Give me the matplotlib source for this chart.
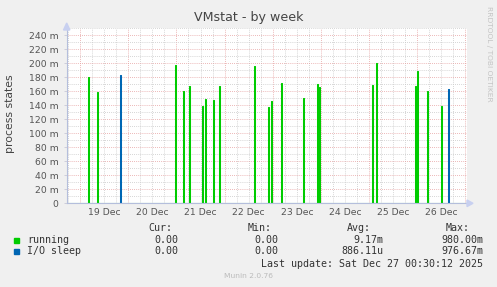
import matplotlib
matplotlib.use("Agg")
import matplotlib.pyplot as plt
import matplotlib.dates as mdates
import matplotlib.ticker as mticker
import pandas as pd

W, H = 497, 287

# spikes (time of sample, value in processes)
running_times = [
    "2025-12-19 04:00", "2025-12-19 08:30", "2025-12-20 23:30",
    "2025-12-21 03:30", "2025-12-21 06:30", "2025-12-21 12:30",
    "2025-12-21 14:00", "2025-12-21 18:00", "2025-12-21 21:00",
    "2025-12-22 14:30", "2025-12-22 21:30", "2025-12-22 23:00",
    "2025-12-23 04:00", "2025-12-23 15:00", "2025-12-23 22:00",
    "2025-12-23 23:00", "2025-12-25 01:30", "2025-12-25 03:30",
    "2025-12-25 23:00", "2025-12-26 00:00", "2025-12-26 05:00",
    "2025-12-26 12:00",
]
running_vals = [
    0.180, 0.159, 0.197, 0.160, 0.167, 0.139, 0.149, 0.147, 0.167,
    0.196, 0.138, 0.146, 0.172, 0.150, 0.170, 0.166, 0.169, 0.200,
    0.167, 0.189, 0.160, 0.139,
]
iosleep_times = ["2025-12-19 20:00", "2025-12-26 15:30"]
iosleep_vals = [0.183, 0.163]

x_start = pd.Timestamp("2025-12-18 17:20")
x_end = pd.Timestamp("2025-12-27 00:45")

legend_rows = [
    ("running", "#00cc00", "0.00", "0.00", "9.17m", "980.00m"),
    ("I/O sleep", "#0066b3", "0.00", "0.00", "886.11u", "976.67m"),
]
last_update = "Last update: Sat Dec 27 00:30:12 2025"


def spikes(times, vals):
    step = pd.Timedelta(minutes=30)
    xs, ys = [x_start], [0.0]
    for t, v in zip(pd.to_datetime(times), vals):
        xs += [t, t, t + step, t + step]
        ys += [0.0, v, v, 0.0]
    xs.append(x_end)
    ys.append(0.0)
    return xs, ys


def fx(x):
    return x / W


def fy(y):
    return 1 - y / H


fig = plt.figure(figsize=(W / 100, H / 100), dpi=100, facecolor="#f0f0f0")
ax = fig.add_axes([fx(66.7), fy(203.3), fx(467) - fx(66.7), (203.3 - 28) / H])
ax.set_facecolor("white")

for times, vals, col in [(running_times, running_vals, "#00cc00"),
                         (iosleep_times, iosleep_vals, "#0066b3")]:
    xs, ys = spikes(times, vals)
    ax.plot(xs, ys, color=col, lw=0.75, zorder=3)

ax.set_xlim(x_start, x_end)
ax.set_ylim(0, 0.2504)

# grid: minor grey every 6h / 10m, major red every day / 20m
ax.xaxis.set_major_locator(mdates.DayLocator())
ax.xaxis.set_minor_locator(mdates.HourLocator(byhour=[6, 12, 18]))
ax.yaxis.set_major_locator(mticker.MultipleLocator(0.02))
ax.yaxis.set_minor_locator(mticker.MultipleLocator(0.01))
ax.grid(which="minor", color="#c8c8c8", lw=0.6, ls=(0, (1, 1.5)), zorder=1)
ax.grid(which="major", color="#e6a0a0", lw=0.6, ls=(0, (1, 1.5)), zorder=1)
ax.set_axisbelow(True)

ax.yaxis.set_major_formatter(mticker.FuncFormatter(
    lambda v, _: "0" if abs(v) < 1e-9 else f"{v * 1000:.0f} m"))
ax.xaxis.set_major_formatter(mticker.NullFormatter())
ax.xaxis.set_minor_formatter(mticker.NullFormatter())
for d in pd.date_range("2025-12-19", "2025-12-26"):
    ax.text(d + pd.Timedelta(hours=12), -0.0125, d.strftime("%d Dec"),
            ha="center", va="center", fontsize=6.7, color="#555555")

ax.tick_params(axis="y", which="major", labelsize=6.7, labelcolor="#555555",
               length=2, width=0.6, color="#c8c8d8", pad=4)
ax.tick_params(axis="y", which="minor", length=0)
ax.tick_params(axis="x", which="both", length=0)

for side in ("top", "right"):
    ax.spines[side].set_visible(False)
for side in ("left", "bottom"):
    ax.spines[side].set_color("#b4bedc")
    ax.spines[side].set_linewidth(0.8)
    ax.spines[side].set_zorder(5)

# axis arrows
fig.patches.append(plt.Polygon(
    [(fx(63.5), fy(30)), (fx(69.9), fy(30)), (fx(66.7), fy(23))],
    closed=True, transform=fig.transFigure, color="#c8d0f0"))
fig.patches.append(plt.Polygon(
    [(fx(467), fy(200)), (fx(467), fy(206.6)), (fx(473), fy(203.3))],
    closed=True, transform=fig.transFigure, color="#c8d0f0"))

fig.text(fx(249), fy(18), "VMstat - by week", ha="center", va="center",
         fontsize=9.1, color="#444444")
fig.text(fx(10), fy(114), "process states", rotation=90, ha="center",
         va="center", fontsize=7.8, color="#444444")
fig.text(fx(489), fy(54), "RRDTOOL / TOBI OETIKER", rotation=270,
         ha="center", va="center", fontsize=5.4, color="#c4c4c4")

mono = dict(family="DejaVu Sans Mono", fontsize=7.2, color="#333333",
            va="center")
for label, right in [("Cur:", 172), ("Min:", 271.7), ("Avg:", 371),
                     ("Max:", 470)]:
    fig.text(fx(right), fy(228.3), label, ha="right", **mono)

for i, (name, col, cur, mn, avg, mx) in enumerate(legend_rows):
    y = 240 + i * 11.3
    fig.patches.append(plt.Rectangle((fx(14), fy(y + 2.5)), 5 / W, 5 / H,
                                     transform=fig.transFigure, color=col))
    fig.text(fx(27), fy(y), name, ha="left", **mono)
    for val, right in [(cur, 178.7), (mn, 278), (avg, 383.3), (mx, 483.3)]:
        fig.text(fx(right), fy(y), val, ha="right", **mono)

fig.text(fx(483.3), fy(263.7), last_update, ha="right", **mono)
fig.text(fx(248), fy(276.3), "Munin 2.0.76", ha="center", va="center",
         fontsize=5.4, color="#bbbbbb")

fig.savefig("out.png", dpi=100, facecolor=fig.get_facecolor())
